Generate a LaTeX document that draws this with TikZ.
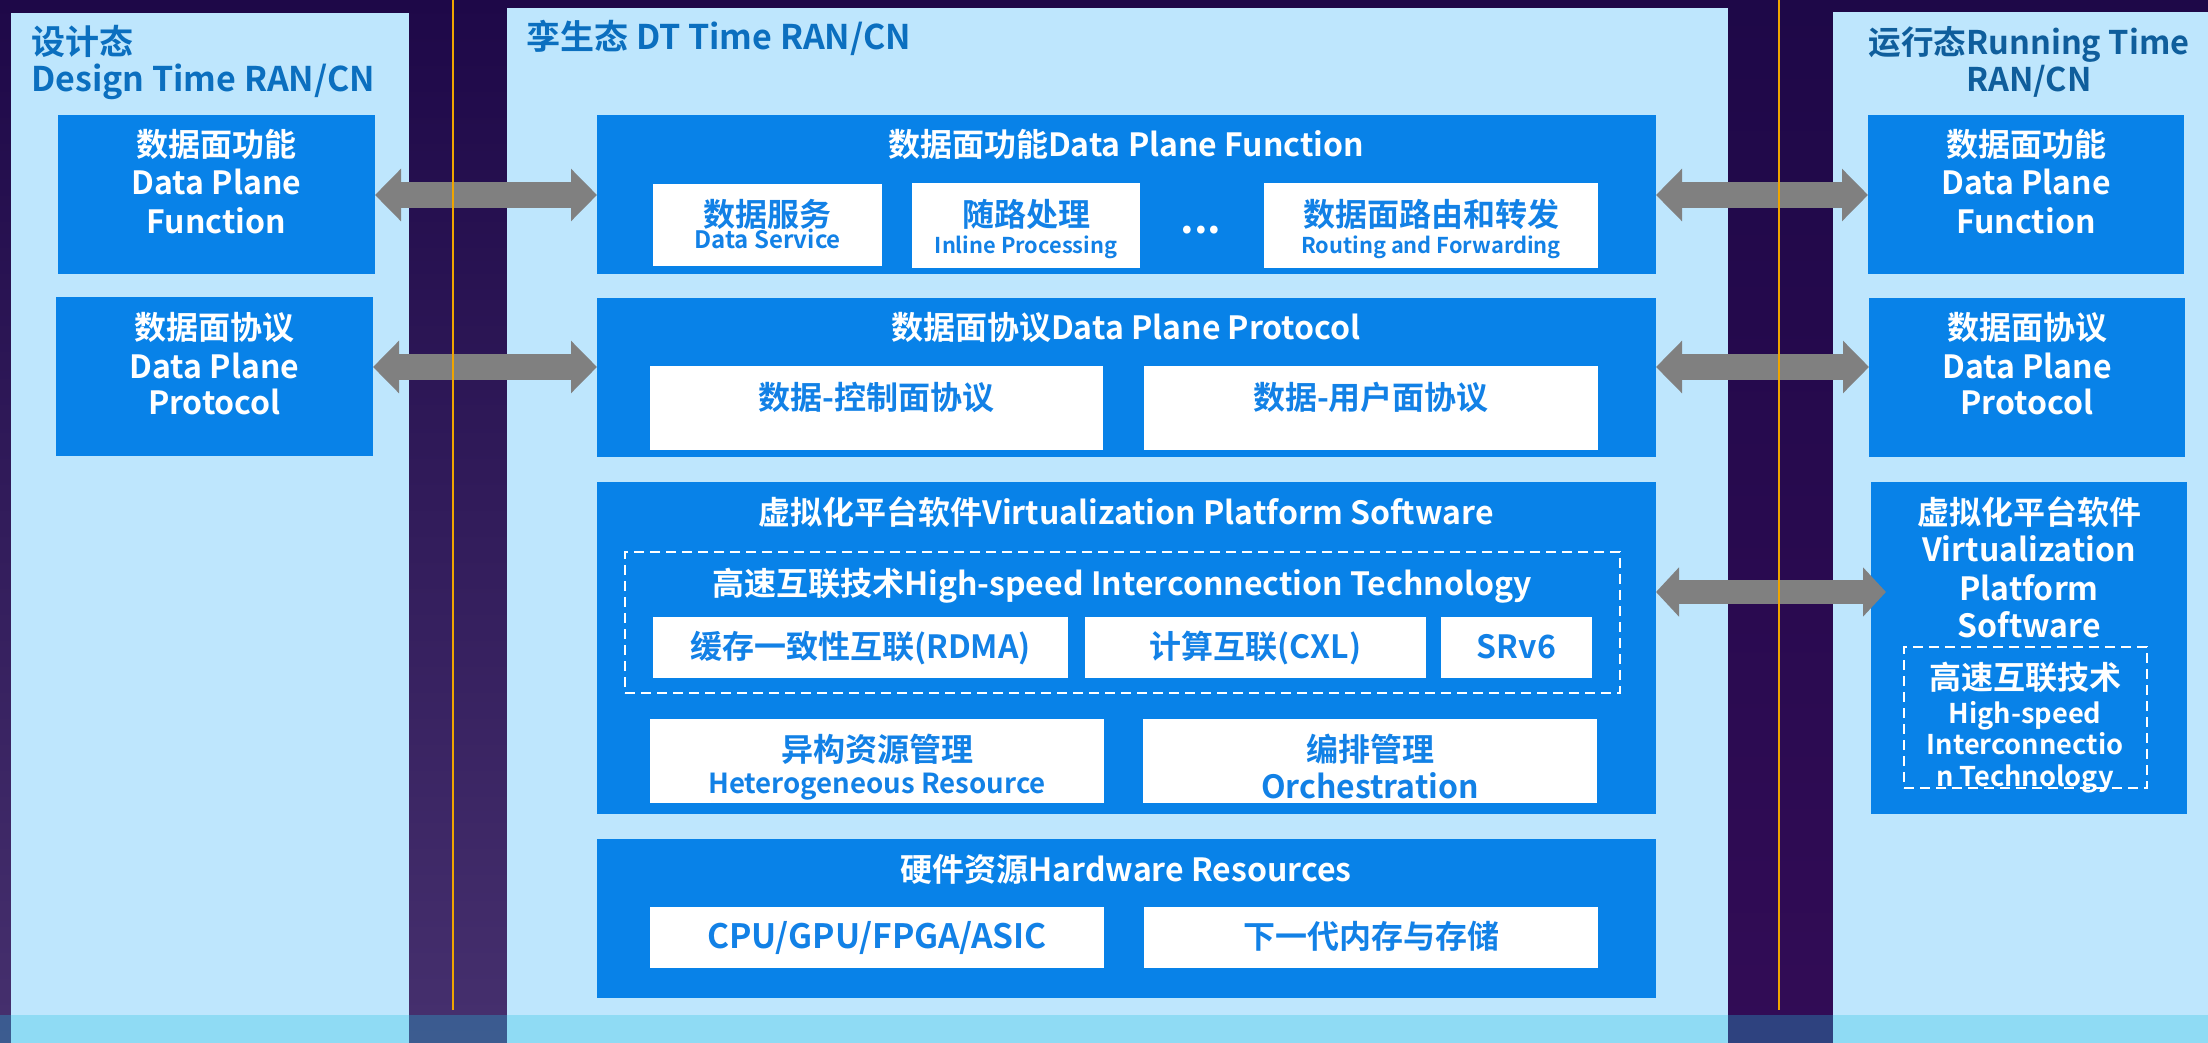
\documentclass[tikz,border=0pt]{standalone}
\usepackage{fontspec}
\setmainfont{Noto Sans CJK SC}[BoldFont={Noto Sans CJK SC Bold}]
\usetikzlibrary{arrows.meta,fit,calc}
\definecolor{panelblue}{HTML}{BEE6FD}
\definecolor{boxblue}{HTML}{0882E8}
\definecolor{subtxt}{HTML}{1281E6}
\definecolor{ttlblue}{HTML}{0B6FBF}
\definecolor{ttlblueb}{HTML}{0F5E9C}
\definecolor{arrgray}{HTML}{808080}
\definecolor{bgtop}{HTML}{1E0848}
\definecolor{bgbot}{HTML}{46306E}
\definecolor{glow}{HTML}{62507E}
\definecolor{darkgap}{HTML}{320C56}
\definecolor{orangeln}{HTML}{F0A500}
\definecolor{stripc}{RGB}{37,194,225}
\colorlet{bgmid}{bgbot!40!bgtop}
\tikzset{
 panel/.style={fill=panelblue, inner sep=0pt, outer sep=0pt},
 bbox/.style={fill=boxblue, inner sep=0pt, outer sep=0pt},
 wbox/.style={fill=white, inner sep=0pt, outer sep=0pt},
 dbox/.style={draw=white, line width=1pt, dash pattern=on 5pt off 3pt, inner sep=0pt, outer sep=0pt},
 tw/.style={text=white, inner sep=0pt, anchor=base, font=\bfseries\fontsize{16}{19}\selectfont},
 twm/.style={tw, font=\bfseries\fontsize{13.6}{16}\selectfont},
 tb/.style={text=subtxt, inner sep=0pt, anchor=base, font=\bfseries\fontsize{16}{19}\selectfont},
 tbs/.style={tb, font=\bfseries\fontsize{10.9}{13}\selectfont},
 tbm/.style={tb, font=\bfseries\fontsize{13.8}{16}\selectfont},
 ttl/.style={text=ttlblue, inner sep=0pt, font=\bfseries\fontsize{17}{20}\selectfont},
 bigarr/.style={draw=arrgray, line width=13pt, {Triangle[width=25.5pt,length=13pt]}-{Triangle[width=25.5pt,length=13pt]}},
 bigarrb/.style={draw=arrgray, line width=12pt, {Triangle[width=24pt,length=11.5pt]}-{Triangle[width=24pt,length=11.5pt]}},
 vline/.style={draw=orangeln, line width=1pt},
}
\begin{document}
\begin{tikzpicture}[x=0.5pt,y=-0.5pt]
\useasboundingbox (0,0) rectangle (2208,1043);
% background
\shade[top color=bgtop, bottom color=bgbot] (0,0) rectangle (2208,1043);
\shade[top color=bgmid, middle color=glow, bottom color=bgbot] (0,420) rectangle (520,1043);
\shade[top color=bgtop, bottom color=darkgap] (1720,0) rectangle (1840,1043);
% panels
\node[panel, fit={(11,13) (409,1043)}] (leftP) {};
\node[panel, fit={(507,8) (1728,1043)}] (midP) {};
\node[panel, fit={(1833,12) (2208,1043)}] (rightP) {};
% titles
\node[ttl, anchor=base west] (lt1) at (31,55) {设计态};
\node[ttl, anchor=base west] (lt2) at (31,92) {Design Time RAN/CN};
\node[ttl, anchor=base west] (mt) at (526,50) {孪生态 DT Time RAN/CN};
\node[ttl, text=ttlblueb, anchor=base, font=\bfseries\fontsize{16.3}{19}\selectfont] (rt1) at (2029,55) {运行态Running Time};
\node[ttl, text=ttlblueb, anchor=base, font=\bfseries\fontsize{16.3}{19}\selectfont] (rt2) at (2029,92) {RAN/CN};
% left boxes
\node[bbox, fit={(58,115) (375,274)}] (lDPF) {};
\node[tw] (lDPFa) at (216.5,157) {数据面功能};
\node[tw] (lDPFb) at (216.5,195) {Data Plane};
\node[tw] (lDPFc) at (216.5,234) {Function};
\node[bbox, fit={(56,297) (373,456)}] (lDPP) {};
\node[tw] (lDPPa) at (214.5,340) {数据面协议};
\node[tw] (lDPPb) at (214.5,379) {Data Plane};
\node[tw] (lDPPc) at (214.5,415) {Protocol};
% right boxes
\node[bbox, fit={(1868,115) (2184,274)}] (rDPF) {};
\node[tw] (rDPFa) at (2026,157) {数据面功能};
\node[tw] (rDPFb) at (2026,195) {Data Plane};
\node[tw] (rDPFc) at (2026,234) {Function};
\node[bbox, fit={(1869,298) (2185,457)}] (rDPP) {};
\node[tw] (rDPPa) at (2027,340) {数据面协议};
\node[tw] (rDPPb) at (2027,379) {Data Plane};
\node[tw] (rDPPc) at (2027,415) {Protocol};
\node[bbox, fit={(1871,482) (2187,814)}] (rVPS) {};
\node[tw] (rVPSa) at (2029,524) {虚拟化平台软件};
\node[tw] (rVPSb) at (2029,561) {Virtualization};
\node[tw] (rVPSc) at (2029,600) {Platform};
\node[tw] (rVPSd) at (2029,637) {Software};
\node[dbox, fit={(1904,647) (2147,788)}] (rHSI) {};
\node[tw] (rHSIa) at (2025,689) {高速互联技术};
\node[twm] (rHSIb) at (2025,723.4) {High-speed};
\node[twm] (rHSIc) at (2025,754.4) {Interconnectio};
\node[twm] (rHSId) at (2025,786.4) {n Technology};
% middle: data plane function
\node[bbox, fit={(597,115) (1656,274)}] (mDPF) {};
\node[tw] (mDPFt) at (1126,157) {数据面功能Data Plane Function};
\node[wbox, fit={(653,184) (882,266)}] (sDS) {};
\node[tb] (sDSa) at (767.5,227) {数据服务};
\node[tbs, font=\bfseries\fontsize{12}{14}\selectfont] (sDSb) at (767.5,248.5) {Data Service};
\node[wbox, fit={(912,183) (1140,268)}] (sIP) {};
\node[tb] (sIPa) at (1026,227) {随路处理};
\node[tbs] (sIPb) at (1026,253.5) {Inline Processing};
\node[tw, font=\bfseries\fontsize{21}{24}\selectfont] (dots) at (1201,234) {...};
\node[wbox, fit={(1264,183) (1598,268)}] (sRF) {};
\node[tb] (sRFa) at (1431,227) {数据面路由和转发};
\node[tbs] (sRFb) at (1431,253.5) {Routing and Forwarding};
% middle: data plane protocol
\node[bbox, fit={(597,298) (1656,457)}] (mDPP) {};
\node[tw] (mDPPt) at (1126,340) {数据面协议Data Plane Protocol};
\node[wbox, fit={(650,366) (1103,450)}] (sCP) {};
\node[tb] (sCPa) at (876.5,409) {数据-控制面协议};
\node[wbox, fit={(1144,366) (1598,450)}] (sUP) {};
\node[tb] (sUPa) at (1371,409) {数据-用户面协议};
% middle: virtualization platform
\node[bbox, fit={(597,482) (1656,814)}] (mVPS) {};
\node[tw] (mVPSt) at (1126,524) {虚拟化平台软件Virtualization Platform Software};
\node[dbox, fit={(625,552) (1620,693)}] (mHSI) {};
\node[tw] (mHSIt) at (1122,595) {高速互联技术High-speed Interconnection Technology};
\node[wbox, fit={(653,617) (1068,677.5)}] (sRD) {};
\node[tb] (sRDa) at (860.5,658) {缓存一致性互联(RDMA)};
\node[wbox, fit={(1085,617) (1426,677.5)}] (sCXL) {};
\node[tb] (sCXLa) at (1255.5,658) {计算互联(CXL)};
\node[wbox, fit={(1441,617) (1592,677.5)}] (sSR) {};
\node[tb] (sSRa) at (1516.5,658) {SRv6};
\node[wbox, fit={(650,719) (1104,803)}] (sHR) {};
\node[tb] (sHRa) at (877,761) {异构资源管理};
\node[tbm] (sHRb) at (877,793.4) {Heterogeneous Resource};
\node[wbox, fit={(1143,719) (1597,803)}] (sOR) {};
\node[tb] (sORa) at (1370,761) {编排管理};
\node[tb] (sORb) at (1370,798) {Orchestration};
% middle: hardware
\node[bbox, fit={(597,839) (1656,998)}] (mHW) {};
\node[tw] (mHWt) at (1126,881) {硬件资源Hardware Resources};
\node[wbox, fit={(650,907) (1104,968)}] (sCPU) {};
\node[tb, font=\bfseries\fontsize{16.8}{19}\selectfont] (sCPUa) at (877,948) {CPU/GPU/FPGA/ASIC};
\node[wbox, fit={(1144,907) (1598,968)}] (sMEM) {};
\node[tb] (sMEMa) at (1371,948) {下一代内存与存储};
% arrows
\coordinate (ya) at (0,195);
\coordinate (yb) at (0,367);
\coordinate (yc) at (0,592);
\draw[bigarr] (lDPF.east |- ya) -- (mDPF.west |- ya);
\draw[bigarr] (mDPF.east |- ya) -- (rDPF.west |- ya);
\draw[bigarr] (lDPP.east |- yb) -- (mDPP.west |- yb);
\draw[bigarr] (mDPP.east |- yb) -- (rDPP.west |- yb);
\draw[bigarrb] (mVPS.east |- yc) -- ($(rVPS.west |- yc)+(15,0)$);
% orange guide lines
\coordinate (o1t) at (453,0);
\coordinate (o1b) at (453,1010);
\coordinate (o2t) at (1779,0);
\coordinate (o2b) at (1779,1010);
\draw[vline] (o1t) -- (o1b);
\draw[vline] (o2t) -- (o2b);
% bottom strip overlay
\fill[stripc, fill opacity=0.3] (0,1015) rectangle (2208,1043);
\end{tikzpicture}
\end{document}
